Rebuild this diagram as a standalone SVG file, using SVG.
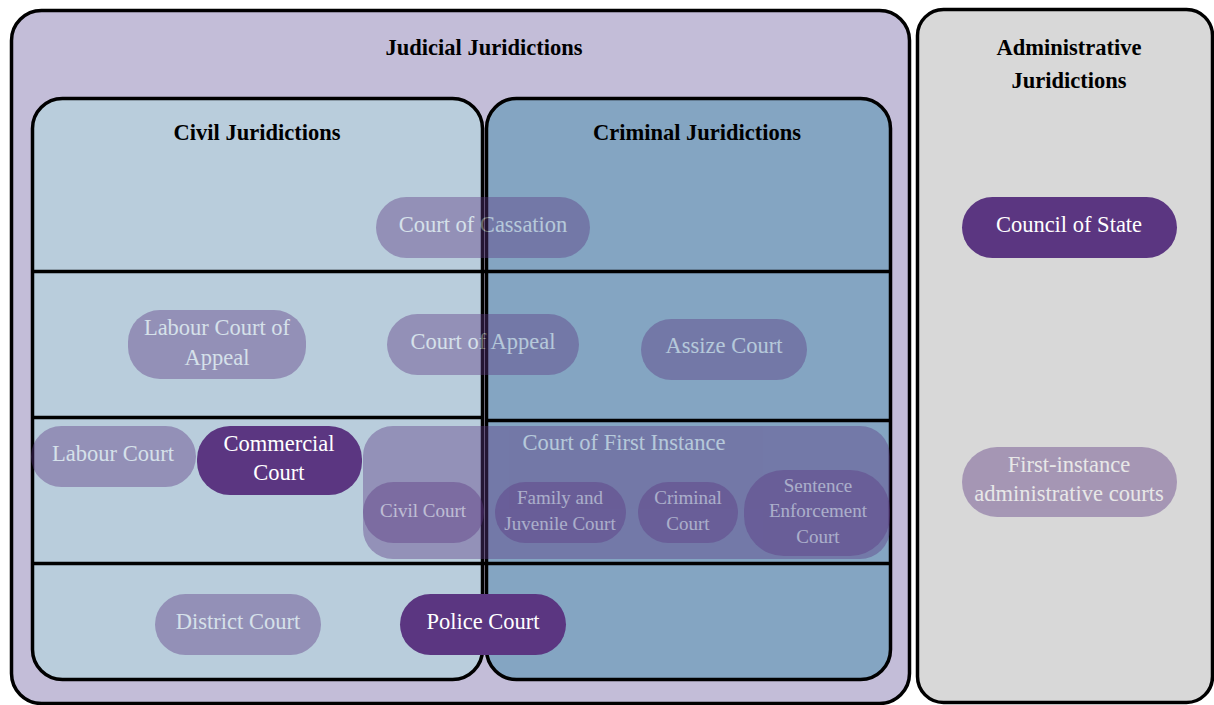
<svg xmlns="http://www.w3.org/2000/svg" width="1214" height="705" viewBox="0 0 1214 705">
  <style>
    .frame { stroke: #000; stroke-width: 3.5; }
    text { font-family: "Liberation Serif", "DejaVu Serif", serif; }
    .title { font-weight: bold; font-size: 22.5px; fill: #000; text-anchor: middle; }
    .lbl { font-size: 22.5px; fill: #fff; text-anchor: middle; }
    .lbl-s { font-size: 19px; fill: #fff; text-anchor: middle; }
    .pill { fill: #5b3681; }
    .faint { opacity: 0.4; }
    .divider { stroke: #000; stroke-width: 3.5; fill: none; }
  </style>

  <rect width="1214" height="705" fill="#ffffff"/>

  <!-- Outer areas -->
  <g id="judicial">
    <rect class="frame" x="11.5" y="10.5" width="898" height="693" rx="30" fill="#c3bdd8"/>
    <text class="title" x="484" y="55">Judicial Juridictions</text>
  </g>
  <g id="administrative">
    <rect class="frame" x="917.5" y="9.5" width="295" height="693" rx="26" fill="#d8d8d8"/>
    <text class="title" x="1069" y="55">Administrative</text>
    <text class="title" x="1069" y="88">Juridictions</text>
  </g>
  <g id="civil">
    <rect class="frame" x="32.5" y="98.5" width="450" height="581" rx="30" fill="#b9cddc"/>
    <text class="title" x="257" y="140">Civil Juridictions</text>
  </g>
  <g id="criminal">
    <rect class="frame" x="486.5" y="98.5" width="404" height="581" rx="30" fill="#84a5c2"/>
    <text class="title" x="697" y="140">Criminal Juridictions</text>
  </g>

  <!-- Level dividers -->
  <g id="connectors">
    <line class="divider" x1="32" y1="271.5" x2="892" y2="271.5"/>
    <line class="divider" x1="32" y1="417.5" x2="484" y2="417.5"/>
    <line class="divider" x1="485" y1="420.5" x2="892" y2="420.5"/>
    <line class="divider" x1="32" y1="563.5" x2="892" y2="563.5"/>
  </g>

  <!-- Supreme level -->
  <g id="court-of-cassation" class="faint">
    <rect class="pill" x="376" y="197" width="214" height="61" rx="30.5"/>
    <text class="lbl" x="483" y="232">Court of Cassation</text>
  </g>
  <g id="council-of-state">
    <rect class="pill" x="962" y="197" width="215" height="61" rx="30.5"/>
    <text class="lbl" x="1069" y="232">Council of State</text>
  </g>

  <!-- Appeal level -->
  <g id="labour-court-of-appeal" class="faint">
    <rect class="pill" x="128" y="310" width="178" height="69" rx="32"/>
    <text class="lbl" x="217" y="335">Labour Court of</text>
    <text class="lbl" x="217" y="365">Appeal</text>
  </g>
  <g id="court-of-appeal" class="faint">
    <rect class="pill" x="387" y="314" width="192" height="61" rx="30.5"/>
    <text class="lbl" x="483" y="349">Court of Appeal</text>
  </g>
  <g id="assize-court" class="faint">
    <rect class="pill" x="641" y="319" width="166" height="61" rx="30.5"/>
    <text class="lbl" x="724" y="353">Assize Court</text>
  </g>

  <!-- First-instance level -->
  <g id="labour-court" class="faint">
    <rect class="pill" x="31" y="426" width="165" height="61" rx="30.5"/>
    <text class="lbl" x="113" y="461">Labour Court</text>
  </g>
  <g id="commercial-court">
    <rect class="pill" x="197" y="426" width="165" height="69" rx="33"/>
    <text class="lbl" x="279" y="451">Commercial</text>
    <text class="lbl" x="279" y="480">Court</text>
  </g>
  <g id="court-of-first-instance" class="faint">
    <rect class="pill" x="363" y="426" width="527" height="133" rx="30"/>
    <text class="lbl" x="624" y="450">Court of First Instance</text>
  </g>
  <g id="civil-court" class="faint">
    <rect class="pill" x="363" y="482" width="121" height="61" rx="30.5"/>
    <text class="lbl-s" x="423" y="517">Civil Court</text>
  </g>
  <g id="family-juvenile-court" class="faint">
    <rect class="pill" x="495" y="482" width="131" height="61" rx="30.5"/>
    <text class="lbl-s" x="560" y="504">Family and</text>
    <text class="lbl-s" x="560" y="530">Juvenile Court</text>
  </g>
  <g id="criminal-court" class="faint">
    <rect class="pill" x="638" y="482" width="100" height="61" rx="30.5"/>
    <text class="lbl-s" x="688" y="504">Criminal</text>
    <text class="lbl-s" x="688" y="530">Court</text>
  </g>
  <g id="sentence-enforcement-court" class="faint">
    <rect class="pill" x="744" y="470" width="146" height="86" rx="40"/>
    <text class="lbl-s" x="818" y="492">Sentence</text>
    <text class="lbl-s" x="818" y="517">Enforcement</text>
    <text class="lbl-s" x="818" y="543">Court</text>
  </g>
  <g id="first-instance-administrative-courts" class="faint">
    <rect class="pill" x="962" y="447" width="215" height="70" rx="35"/>
    <text class="lbl" x="1069" y="472">First-instance</text>
    <text class="lbl" x="1069" y="501">administrative courts</text>
  </g>

  <!-- Local level -->
  <g id="district-court" class="faint">
    <rect class="pill" x="155" y="594" width="166" height="61" rx="30.5"/>
    <text class="lbl" x="238" y="629">District Court</text>
  </g>
  <g id="police-court">
    <rect class="pill" x="400" y="594" width="166" height="61" rx="30.5"/>
    <text class="lbl" x="483" y="629">Police Court</text>
  </g>
</svg>
